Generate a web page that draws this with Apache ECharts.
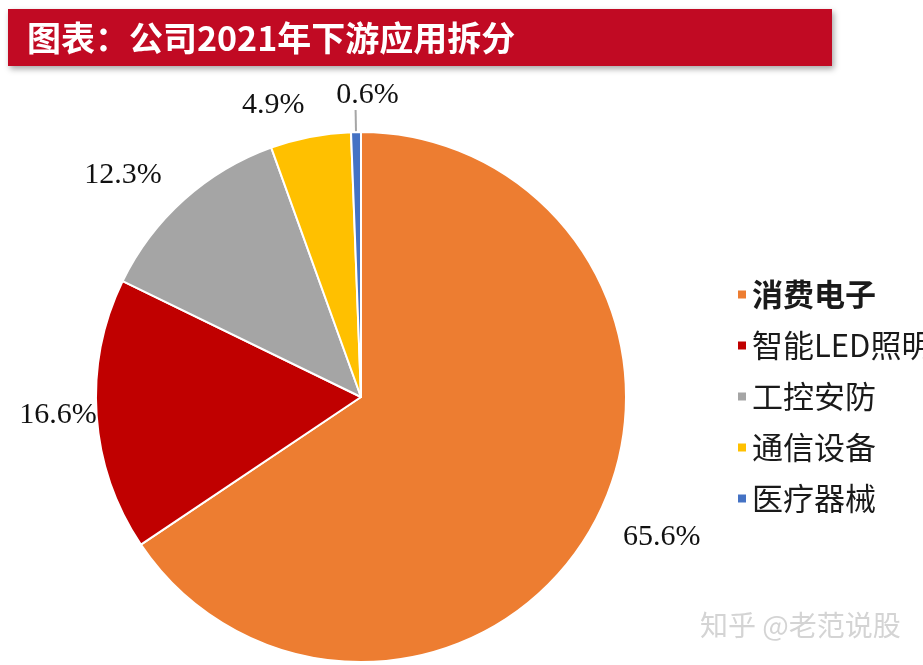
<!DOCTYPE html>
<html>
<head>
<meta charset="utf-8">
<script src="https://cdn.jsdelivr.net/npm/echarts@6/dist/echarts.min.js"></script>
<style>
    html, body { margin: 0; padding: 0; background: #fff; }
    #chart { width: 923px; height: 665px; }
</style>
</head>
<body>
<div id="chart"></div>
<script>
// 数据
const categories = ['消费电子', '智能LED照明', '工控安防', '通信设备', '医疗器械'];
const shares = [65.6, 16.6, 12.3, 4.9, 0.6];
const colors = ['#ED7D31', '#C00000', '#A5A5A5', '#FFC000', '#4472C4'];
// 每个标签离饼图边缘的距离（原图标签位置不统一）
const labelLengths = [32, 0, 33, 32, 22];

const pieData = categories.map(function (name, i) {
    return {
        name: name,
        value: shares[i],
        itemStyle: { color: colors[i] },
        labelLine: { show: i === 4, length: labelLengths[i], length2: 0 }
    };
});

const chart = echarts.init(document.getElementById('chart'));
chart.setOption({
    backgroundColor: '#fff',
    animation: false,
    title: {
        text: '图表：公司2021年下游应用拆分',
        left: 22,
        top: 16,
        textStyle: {
            color: '#fff',
            fontSize: 34,
            fontWeight: 'bold',
            fontFamily: 'Noto Sans CJK SC'
        }
    },
    graphic: [
        {
            type: 'rect',
            z: -1,
            shape: { x: 8, y: 9, width: 824, height: 57 },
            style: {
                fill: '#C10A23',
                shadowBlur: 6,
                shadowOffsetX: 2,
                shadowOffsetY: 3,
                shadowColor: 'rgba(0,0,0,0.35)'
            }
        },
        {
            type: 'text',
            left: 700,
            top: 611,
            style: {
                text: '知乎 @老范说股',
                fill: '#d4d4d4',
                fontSize: 28,
                fontFamily: 'Noto Sans CJK SC',
                shadowColor: 'rgba(0,0,0,0.25)',
                shadowOffsetX: 1,
                shadowOffsetY: 1,
                shadowBlur: 1
            }
        }
    ],
    legend: {
        orient: 'vertical',
        left: 731,
        top: 274,
        itemWidth: 10,
        itemHeight: 10,
        itemGap: 20,
        icon: 'rect',
        data: categories,
        formatter: function (name) {
            return name === categories[0] ? '{b|' + name + '}' : name;
        },
        textStyle: {
            color: '#1a1a1a',
            fontSize: 31,
            lineHeight: 31,
            padding: [0, 0, 0, 0],
            fontFamily: 'Noto Sans CJK SC',
            rich: {
                b: {
                    fontSize: 31,
                    fontWeight: 'bold',
                    color: '#1a1a1a',
                    fontFamily: 'Noto Sans CJK SC'
                }
            }
        }
    },
    series: [
        {
            type: 'pie',
            center: [361, 397],
            radius: 265,
            startAngle: 90,
            clockwise: true,
            avoidLabelOverlap: false,
            itemStyle: { borderColor: '#fff', borderWidth: 2 },
            label: {
                position: 'outside',
                distanceToLabelLine: 0,
                formatter: function (p) { return p.value.toFixed(1) + '%'; },
                color: '#111',
                fontSize: 30,
                fontFamily: 'Liberation Serif'
            },
            labelLine: {
                lineStyle: { color: '#A6A6A6', width: 2 }
            },
            labelLayout: function (p) {
                if (p.dataIndex === 4) {
                    return { align: 'center', verticalAlign: 'bottom', dx: 12 };
                }
            },
            emphasis: { disabled: true },
            data: pieData
        }
    ]
});
</script>
</body>
</html>
